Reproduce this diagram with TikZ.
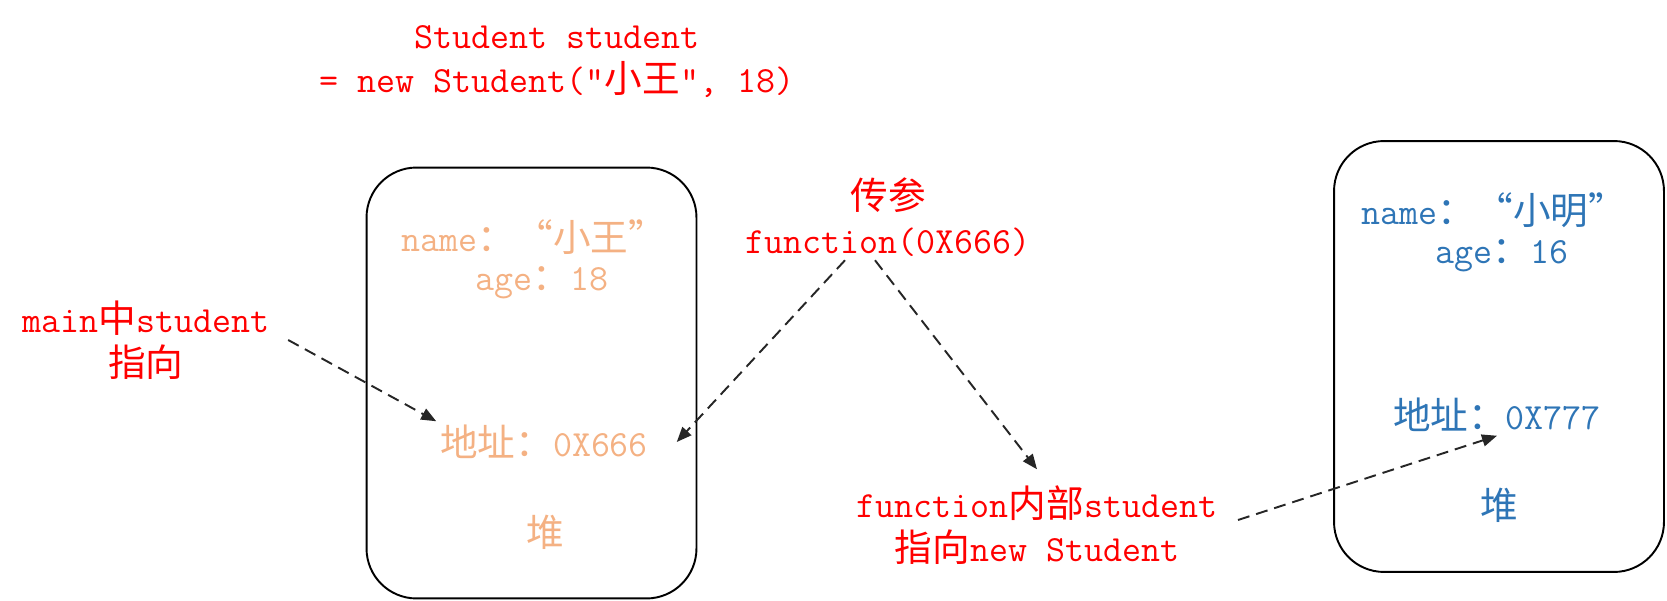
\documentclass[tikz,border=0pt]{standalone}
\usepackage{fontspec}
\usepackage{tikz}
\usetikzlibrary{arrows.meta}
\newfontfamily\zhfont{Noto Sans CJK SC}[Scale=1.02]
\newcommand{\zh}[1]{{\zhfont #1}}
\definecolor{Peach}{HTML}{F4B183}
\definecolor{Steel}{HTML}{2E75B6}
\definecolor{Black85}{HTML}{262626}

\begin{document}
\begin{tikzpicture}[
    x=0.02cm, y=-0.02cm,
    heap/.style={draw=black, line width=1.1pt, rounded corners=1cm, minimum width=6.6cm, minimum height=8.62cm},
    lbl/.style={font=\ttfamily\fontsize{21}{25}\selectfont, align=center, inner sep=2pt},
    ptr/.style={-{Triangle[length=3mm, width=2.4mm]}, dash pattern=on 2.4mm off 1.4mm, line width=1.1pt, color=Black85}
]
\useasboundingbox (0,0) rectangle (1667,601);

% Heap boxes
\node[heap] (heapA) at (531.5,383) {};
\node[heap] (heapB) at (1499,356.5) {};

% Object in main
\node[lbl, text=Peach] (nameA) at (534,237) {name\zh{：“小王”}};
\node[lbl, text=Peach] (ageA) at (542,283) {age\zh{：}18};
\node[lbl, text=Peach] (addrA) at (544,442) {\zh{地址：}0X666};
\node[lbl, text=Peach] (heapAlbl) at (545,532) {\zh{堆}};

% Object made in function
\node[lbl, text=Steel] (nameB) at (1494,210) {name\zh{：“小明”}};
\node[lbl, text=Steel] (ageB) at (1502,256) {age\zh{：}16};
\node[lbl, text=Steel] (addrB) at (1497,415) {\zh{地址：}0X777};
\node[lbl, text=Steel] (heapBlbl) at (1499,505) {\zh{堆}};

% Notes
\node[lbl, text=red] (decl) at (557,62) {Student student\\= new Student("\zh{小王}", 18)};
\node[lbl, text=red] (mainref) at (146,340) {main\zh{中}student\\\zh{指向}};
\node[lbl, text=red] (param) at (888,217) {\zh{传参}\\function(0X666)};
\node[lbl, text=red] (fnref) at (1037,525) {function\zh{内部}student\\\zh{指向}new Student};

\draw[ptr] ([xshift=0.3cm]mainref.east) -- (addrA.north west);
\draw[ptr] ([xshift=-0.86cm]param.south) -- ([xshift=0.5cm]addrA.east);
\draw[ptr] ([xshift=-0.26cm]param.south) -- ([yshift=0.25cm]fnref.north);
\draw[ptr] ([xshift=0.34cm, yshift=0.1cm]fnref.east) -- (addrB.south);

\end{tikzpicture}
\end{document}
